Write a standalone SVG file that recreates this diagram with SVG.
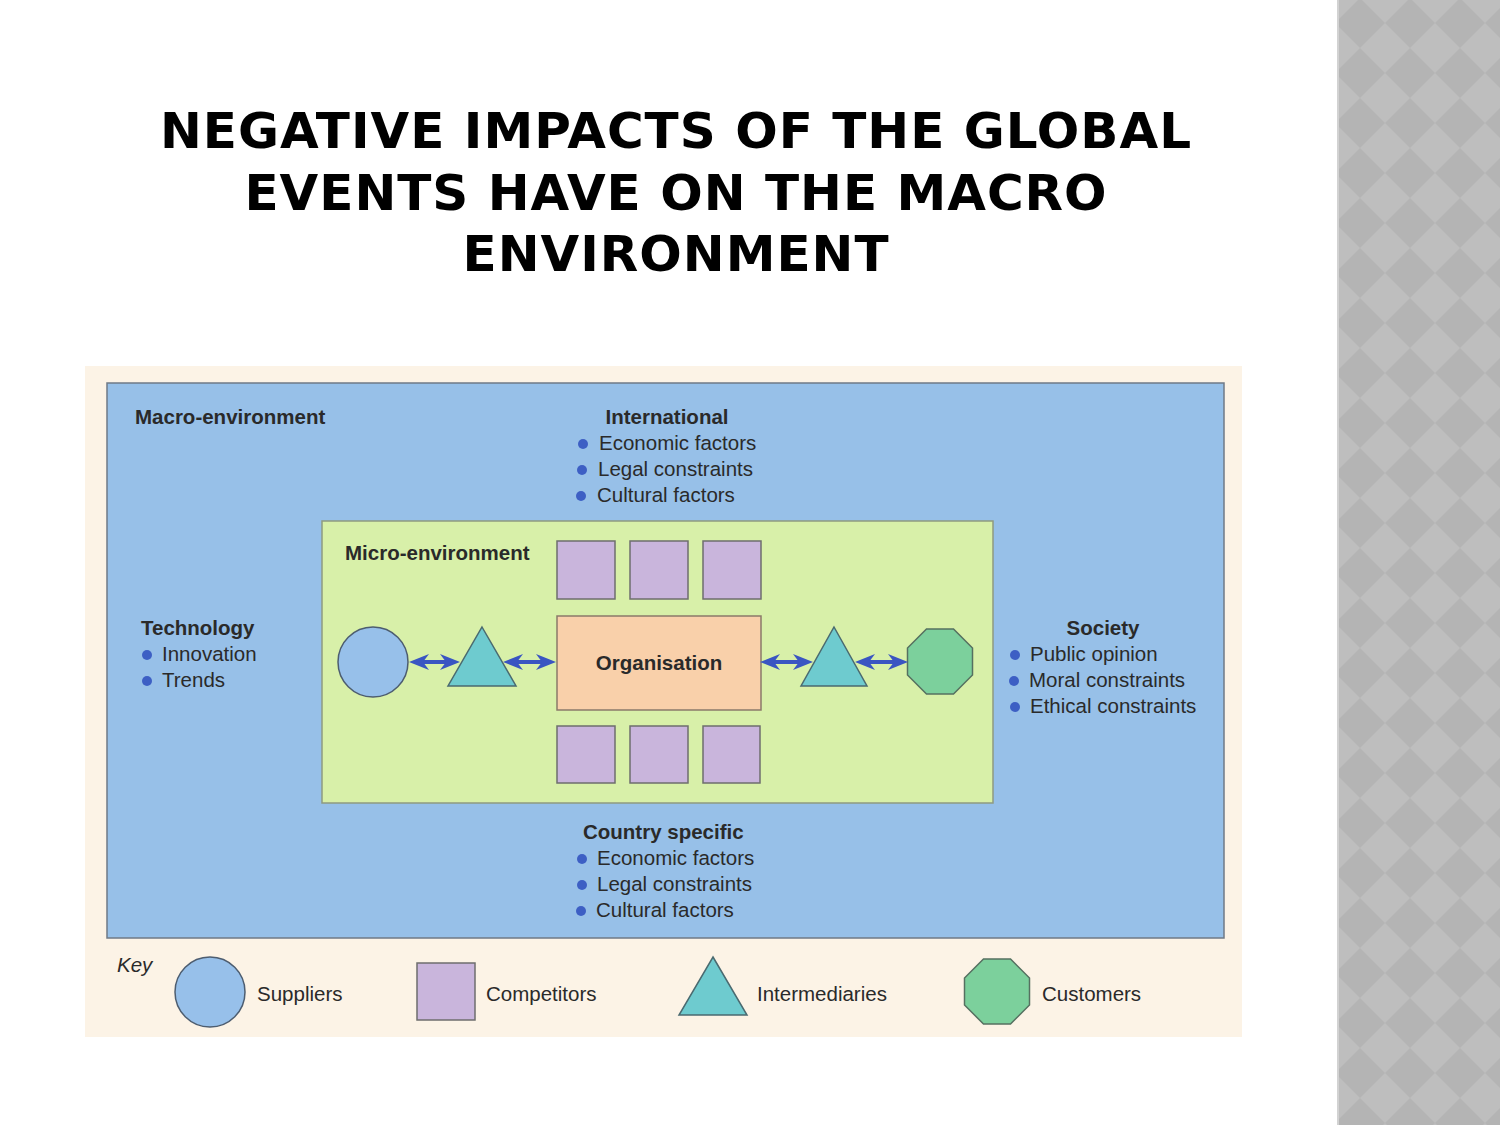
<svg xmlns="http://www.w3.org/2000/svg" width="1500" height="1125" viewBox="0 0 1500 1125">
<style>
.title{font-family:"DejaVu Sans",sans-serif;font-weight:bold;font-size:50px;fill:#000;text-anchor:middle;letter-spacing:1px}
.t{font-family:"Liberation Sans",Arial,sans-serif;font-size:20.5px;fill:#2a2a2a}
.b{font-weight:bold}
.bul{fill:#3d5fc4}
.sq{fill:#c9b5dc;stroke:#6e6e6e;stroke-width:1.5}
.tri{fill:#6ecbcf;stroke:#4a6a70;stroke-width:1.5}
.circ{fill:#97c0ea;stroke:#4d5d70;stroke-width:1.5}
.oct{fill:#7cd09c;stroke:#557060;stroke-width:1.5}
.arr{stroke:#3a55c2;stroke-width:4;fill:none;marker-start:url(#ah);marker-end:url(#ah)}
</style>
<defs>
<pattern id="dia" x="1335" y="-2" width="50" height="50" patternUnits="userSpaceOnUse">
<rect width="50" height="50" fill="#bebebe"/>
<path d="M25,0 L50,25 L25,50 L0,25 Z" fill="#b4b4b4"/>
</pattern>
<marker id="ah" viewBox="0 0 20 16" refX="12" refY="8" markerWidth="20" markerHeight="16" markerUnits="userSpaceOnUse" orient="auto-start-reverse">
<path d="M0,0 L20,8 L0,16 L6,8 Z" fill="#3a55c2"/>
</marker>
</defs>
<rect width="1500" height="1125" fill="#ffffff"/>
<rect x="1337" y="0" width="163" height="1125" fill="url(#dia)"/>
<rect x="1337" y="0" width="2" height="1125" fill="#d2d2d2"/>

<g id="title">
<text class="title" x="676" y="148">NEGATIVE IMPACTS OF THE GLOBAL</text>
<text class="title" x="676" y="210">EVENTS HAVE ON THE MACRO</text>
<text class="title" x="676" y="271">ENVIRONMENT</text>
</g>

<g id="panel">
<rect x="85" y="366" width="1157" height="671" fill="#fcf3e6"/>
</g>
<g id="macro">
<rect x="107" y="383" width="1117" height="555" fill="#97c0e8" stroke="#6f7a86" stroke-width="1.5"/>
<text class="t b" x="135" y="424">Macro-environment</text>
</g>
<g id="international">
<text class="t b" x="667" y="424" text-anchor="middle">International</text>
<circle class="bul" cx="583" cy="444" r="5"/><text class="t" x="599" y="450">Economic factors</text>
<circle class="bul" cx="582" cy="470" r="5"/><text class="t" x="598" y="476">Legal constraints</text>
<circle class="bul" cx="581" cy="496" r="5"/><text class="t" x="597" y="502">Cultural factors</text>
</g>
<g id="technology">
<text class="t b" x="141" y="635">Technology</text>
<circle class="bul" cx="147" cy="655" r="5"/><text class="t" x="162" y="661">Innovation</text>
<circle class="bul" cx="147" cy="681" r="5"/><text class="t" x="162" y="687">Trends</text>
</g>
<g id="society">
<text class="t b" x="1103" y="635" text-anchor="middle">Society</text>
<circle class="bul" cx="1015" cy="655" r="5"/><text class="t" x="1030" y="661">Public opinion</text>
<circle class="bul" cx="1014" cy="681" r="5"/><text class="t" x="1029" y="687">Moral constraints</text>
<circle class="bul" cx="1015" cy="707" r="5"/><text class="t" x="1030" y="713">Ethical constraints</text>
</g>
<g id="country">
<text class="t b" x="583" y="839">Country specific</text>
<circle class="bul" cx="582" cy="859" r="5"/><text class="t" x="597" y="865">Economic factors</text>
<circle class="bul" cx="582" cy="885" r="5"/><text class="t" x="597" y="891">Legal constraints</text>
<circle class="bul" cx="581" cy="911" r="5"/><text class="t" x="596" y="917">Cultural factors</text>
</g>
<g id="micro">
<rect x="322" y="521" width="671" height="282" fill="#d8f0a9" stroke="#8f9a80" stroke-width="1.5"/>
<text class="t b" x="345" y="560">Micro-environment</text>
</g>
<g id="competitors-top">
<rect class="sq" x="557" y="541" width="58" height="58"/>
<rect class="sq" x="630" y="541" width="58" height="58"/>
<rect class="sq" x="703" y="541" width="58" height="58"/>
</g>
<g id="competitors-bottom">
<rect class="sq" x="557" y="726" width="58" height="57"/>
<rect class="sq" x="630" y="726" width="58" height="57"/>
<rect class="sq" x="703" y="726" width="57" height="57"/>
</g>
<g id="organisation">
<rect x="557" y="616" width="204" height="94" fill="#f9d0aa" stroke="#8a7a6a" stroke-width="1.5"/>
<text class="t b" x="659" y="670" text-anchor="middle">Organisation</text>
</g>
<g id="supplier">
<circle class="circ" cx="373" cy="662" r="35"/>
</g>
<g id="intermediary-left">
<polygon class="tri" points="482,627 516,686 448,686"/>
</g>
<g id="intermediary-right">
<polygon class="tri" points="834,627 867,686 801,686"/>
</g>
<g id="customer">
<polygon class="oct" points="926.5,629 953.5,629 972.5,648 972.5,675 953.5,694 926.5,694 907.5,675 907.5,648"/>
</g>
<g id="connectors">
<line class="arr" x1="417" y1="662" x2="452" y2="662"/>
<line class="arr" x1="511" y1="662" x2="548" y2="662"/>
<line class="arr" x1="768" y1="662" x2="805" y2="662"/>
<line class="arr" x1="863" y1="662" x2="900" y2="662"/>
</g>
<g id="key">
<text class="t" x="117" y="972" font-style="italic">Key</text>
<circle class="circ" cx="210" cy="992" r="35"/>
<text class="t" x="257" y="1001">Suppliers</text>
<rect class="sq" x="417" y="963" width="58" height="57"/>
<text class="t" x="486" y="1001">Competitors</text>
<polygon class="tri" points="713,957 747,1015 679,1015"/>
<text class="t" x="757" y="1001">Intermediaries</text>
<polygon class="oct" points="983.5,959 1010.5,959 1029.5,978 1029.5,1005 1010.5,1024 983.5,1024 964.5,1005 964.5,978"/>
<text class="t" x="1042" y="1001">Customers</text>
</g>
</svg>
